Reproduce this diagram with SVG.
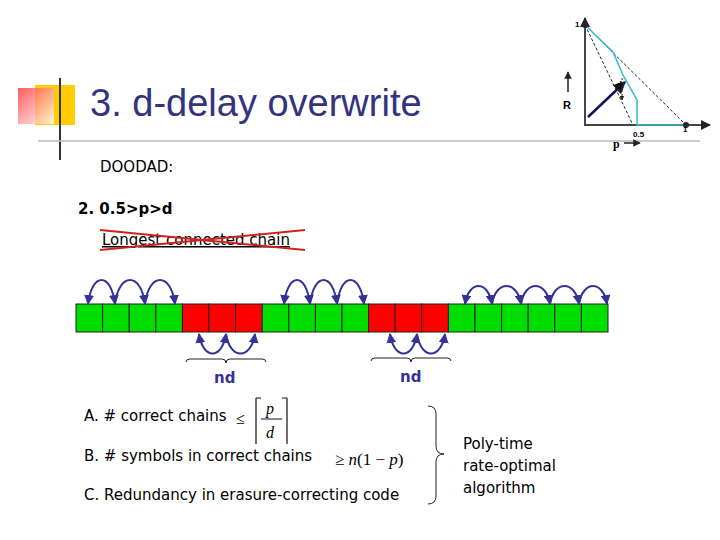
<svg xmlns="http://www.w3.org/2000/svg" width="720" height="540" viewBox="0 0 720 540">
<defs>
<marker id="ah" viewBox="0 0 10 10" refX="9" refY="5" markerWidth="5" markerHeight="5" orient="auto-start-reverse"><path d="M0,0L10,5L0,10z" fill="#333399"/></marker>
<marker id="bk" viewBox="0 0 10 10" refX="9" refY="5" markerWidth="5" markerHeight="5" orient="auto"><path d="M0,0L10,5L0,10z" fill="#222"/></marker>
<linearGradient id="rg" x1="0" y1="0" x2="1" y2="1"><stop offset="0" stop-color="#ff3333"/><stop offset="1" stop-color="#ffffff"/></linearGradient>
</defs>
<style>
.s{font-family:"Liberation Sans",Arial,sans-serif;fill:#000}
.t{font-family:Tahoma,"DejaVu Sans",sans-serif;fill:#000}
.g{fill:#00dd00;stroke:#222;stroke-width:1}
.r{fill:#ff0000;stroke:#222;stroke-width:1}
.arc{fill:none;stroke:#333399;stroke-width:2;marker-start:url(#ah);marker-end:url(#ah)}
.arc1{fill:none;stroke:#333399;stroke-width:2;marker-end:url(#ah)}
.nd{font-family:"DejaVu Sans",Verdana,sans-serif;font-weight:bold;font-size:15px;fill:#333399}
</style>
<rect width="720" height="540" fill="#fff"/>
<g id="deco">
<rect x="35" y="85" width="40" height="40" fill="#ffcc00"/>
<rect x="18" y="88" width="36" height="36" fill="url(#rg)" opacity="0.8"/>
<line x1="60" y1="78" x2="60" y2="160" stroke="#333" stroke-width="2"/>
<line x1="38" y1="141" x2="700" y2="141" stroke="#bbb" stroke-width="1.5"/>
</g>
<text class="s" x="90" y="116" font-size="38" style="fill:#333380">3. d-delay overwrite</text>
<g id="graph">
<line x1="585" y1="126" x2="585" y2="18" stroke="#444" stroke-width="2" marker-end="url(#bk)"/>
<line x1="585" y1="125" x2="710" y2="125" stroke="#444" stroke-width="2" marker-end="url(#bk)"/>
<line x1="585" y1="25" x2="632" y2="123" stroke="#222" stroke-dasharray="3,2"/>
<line x1="585" y1="25" x2="686" y2="125" stroke="#222" stroke-dasharray="3,2"/>
<polyline points="585,25 613,52 623,75 637,100 637,125 686,125" fill="none" stroke="#33bbcc" stroke-width="1.5"/>
<line x1="588" y1="117" x2="625" y2="82" stroke="#111155" stroke-width="2.5" marker-end="url(#bk)"/>
<line x1="622" y1="78" x2="622" y2="100" stroke="#222" stroke-dasharray="2,2" marker-end="url(#bk)"/>
<circle cx="585" cy="25" r="3" fill="#223"/>
<circle cx="686" cy="125" r="3" fill="#223"/>
<line x1="568" y1="92" x2="568" y2="72" stroke="#222" stroke-width="1.5" marker-end="url(#bk)"/>
<text class="s" x="563" y="109" font-size="11" font-weight="bold" font-family="Liberation Serif">R</text>
<text class="s" x="575" y="27" font-size="8" font-weight="bold">1</text>
<text class="s" x="616" y="89" font-size="10" font-weight="bold">d</text>
<text class="s" x="633" y="137" font-size="8" font-weight="bold">0.5</text>
<text class="s" x="683" y="132" font-size="8" font-weight="bold">1</text>
<text class="s" x="613" y="148" font-size="12" font-weight="bold" style="font-family:'Liberation Serif'">p</text>
<line x1="624" y1="143" x2="640" y2="143" stroke="#222" stroke-width="1.5" marker-end="url(#bk)"/>
</g>
<text class="t" x="100" y="172" font-size="15">DOODAD:</text>
<text class="t" x="78" y="214" font-size="15" font-weight="bold">2. 0.5&gt;p&gt;d</text>
<text class="t" x="102" y="245" font-size="15" text-decoration="underline">Longest connected chain</text>
<g stroke="#cc2222" stroke-width="2"><line x1="100" y1="230" x2="305" y2="250"/><line x1="100" y1="250" x2="305" y2="230"/></g>
<g id="cells">
<rect class="g" x="76" y="304" width="26.6" height="28"/><rect class="g" x="102.6" y="304" width="26.6" height="28"/><rect class="g" x="129.2" y="304" width="26.6" height="28"/><rect class="g" x="155.8" y="304" width="26.6" height="28"/>
<rect class="r" x="182.4" y="304" width="26.6" height="28"/><rect class="r" x="209" y="304" width="26.6" height="28"/><rect class="r" x="235.6" y="304" width="26.6" height="28"/>
<rect class="g" x="262.2" y="304" width="26.6" height="28"/><rect class="g" x="288.8" y="304" width="26.6" height="28"/><rect class="g" x="315.4" y="304" width="26.6" height="28"/><rect class="g" x="342" y="304" width="26.6" height="28"/>
<rect class="r" x="368.6" y="304" width="26.6" height="28"/><rect class="r" x="395.2" y="304" width="26.6" height="28"/><rect class="r" x="421.8" y="304" width="26.6" height="28"/>
<rect class="g" x="448.4" y="304" width="26.6" height="28"/><rect class="g" x="475" y="304" width="26.6" height="28"/><rect class="g" x="501.6" y="304" width="26.6" height="28"/><rect class="g" x="528.2" y="304" width="26.6" height="28"/><rect class="g" x="554.8" y="304" width="26.6" height="28"/><rect class="g" x="581.4" y="304" width="26.6" height="28"/>
</g>
<g id="connectors">
<path class="arc" d="M88,304 C92,272 111,272 115,304"/><path class="arc1" d="M115,304 C119,272 141,272 145,304"/><path class="arc1" d="M145,304 C149,272 171,272 175,304"/>
<path class="arc" d="M284,304 C288,272 306,272 310,304"/><path class="arc1" d="M310,304 C314,272 333,272 337,304"/><path class="arc1" d="M337,304 C341,272 360,272 364,304"/>
<path class="arc" d="M465,304 C469,280 488,280 492,304"/><path class="arc1" d="M492,304 C496,280 517,280 521,304"/><path class="arc1" d="M521,304 C525,280 546,280 550,304"/><path class="arc1" d="M550,304 C554,280 575,280 579,304"/><path class="arc1" d="M579,304 C583,280 603,280 607,304"/>
<path class="arc" d="M199,334 C203,360 222,360 226,334"/><path class="arc1" d="M226,334 C230,360 251,360 255,334"/>
<path class="arc" d="M390,334 C394,360 413,360 417,334"/><path class="arc1" d="M417,334 C421,360 441,360 445,334"/>
<path d="M186,362 q0,-3 4,-3 h32 q4,0 4,4 q0,-4 4,-4 h32 q4,0 4,3" fill="none" stroke="#222"/>
<path d="M371,361 q0,-3 4,-3 h32 q4,0 4,4 q0,-4 4,-4 h32 q4,0 4,3" fill="none" stroke="#222"/>
</g>
<text class="nd" x="214" y="383">nd</text>
<text class="nd" x="400" y="382">nd</text>
<text class="t" x="84" y="421" font-size="15">A. # correct chains</text>
<text class="s" x="236" y="424" font-size="16" style="font-family:'Liberation Serif'">≤</text>
<path d="M256,398 v46 M256,398 h5 M287,398 v46 M287,398 h-5" stroke="#111" fill="none" stroke-width="1.2"/>
<line x1="261" y1="419" x2="282" y2="419" stroke="#111"/>
<text x="266" y="414" font-size="16" font-style="italic" style="font-family:'Liberation Serif'">p</text>
<text x="266" y="438" font-size="16" font-style="italic" style="font-family:'Liberation Serif'">d</text>
<text class="t" x="84" y="461" font-size="15">B. # symbols in correct chains</text>
<text x="335" y="465" font-size="17" style="font-family:'Liberation Serif'">≥ <tspan font-style="italic">n</tspan>(1 − <tspan font-style="italic">p</tspan>)</text>
<text class="t" x="84" y="500" font-size="15">C. Redundancy in erasure-correcting code</text>
<path d="M428,406 q8,0 8,8 v32 q0,8 8,8 q-8,0 -8,8 v34 q0,8 -8,8" fill="none" stroke="#222"/>
<text class="t" x="463" y="449" font-size="15">Poly-time</text>
<text class="t" x="463" y="471" font-size="15">rate-optimal</text>
<text class="t" x="463" y="493" font-size="15">algorithm</text>
</svg>
